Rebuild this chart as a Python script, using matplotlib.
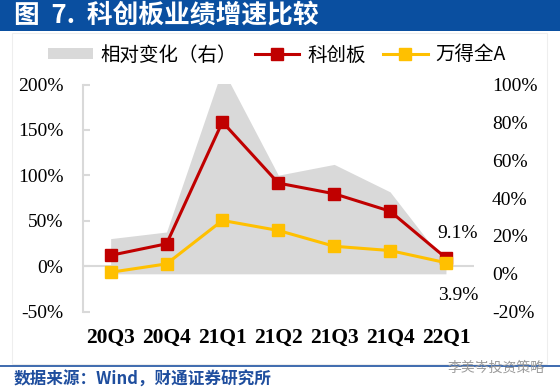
import matplotlib
matplotlib.use("Agg")
import matplotlib.pyplot as plt
from matplotlib.patches import Rectangle, Patch
from matplotlib.lines import Line2D

categories = ["20Q3", "20Q4", "21Q1", "21Q2", "21Q3", "21Q4", "22Q1"]
star_market = [12.0, 24.7, 158.8, 91.5, 79.8, 60.6, 9.1]
wind_all_a = [-6.6, 2.6, 50.4, 39.4, 22.0, 17.3, 3.9]
relative_change = [18.6, 22.1, 108.4, 52.1, 57.8, 43.3, 5.2]
left_ticks = [-50, 0, 50, 100, 150, 200]
right_ticks = [-20, 0, 20, 40, 60, 80, 100]

RED = "#C00000"
YELLOW = "#FFC000"
GRAY = "#D9D9D9"
SERIF = "Liberation Serif"
CJK = ["Noto Sans CJK SC", "DejaVu Sans"]

W, H = 560, 391
fig = plt.figure(figsize=(W / 100, H / 100), dpi=100)
fig.patch.set_facecolor("white")

# title bar
fig.patches.append(Rectangle((0, 1 - 31 / H), 1, 31 / H, transform=fig.transFigure,
                             facecolor="#0A4FA0", edgecolor="none", zorder=0))
fig.text(14 / W, 1 - 16 / H, "图  7.  科创板业绩增速比较", color="white", fontsize=18.5,
         fontweight="bold", family=CJK, va="center", ha="left")
# faint frame
fig.patches.append(Rectangle((12 / W, 1 - 364 / H), 535 / W, 331 / H, transform=fig.transFigure,
                             facecolor="none", edgecolor="#EEEEEE", lw=0.8, zorder=0))

x0, x1 = 82.7, 473.9
y_top, y_bot = 84.5, 311.7
ax = fig.add_axes([x0 / W, 1 - y_bot / H, (x1 - x0) / W, (y_bot - y_top) / H])
ax2 = ax.twinx()
ax.set_zorder(ax2.get_zorder() + 1)
ax.patch.set_visible(False)

xs = list(range(len(categories)))

ax2.fill_between(xs, 0, relative_change, color=GRAY, linewidth=0)
ax2.set_ylim(-20, 100)
ax2.set_yticks(right_ticks)
ax2.set_yticklabels([f"{v}%" for v in right_ticks], fontfamily=SERIF, fontsize=14)
ax2.tick_params(axis="y", length=0, pad=13, colors="#000000")
for s in ax2.spines.values():
    s.set_visible(False)

ax.axhline(0, color=GRAY, lw=1.5, zorder=1)
ax.plot(xs, star_market, color=RED, lw=2.2, marker="s", markersize=8.5, zorder=3)
ax.plot(xs, wind_all_a, color=YELLOW, lw=2.2, marker="s", markersize=8.5, zorder=3)
ax.set_xlim(-0.5, 6.5)
ax.set_ylim(-50, 200)
ax.set_yticks(left_ticks)
ax.set_yticklabels([f"{v}%" for v in left_ticks], fontfamily=SERIF, fontsize=14)
ax.tick_params(axis="y", direction="in", length=5, width=1.5, color=GRAY, pad=14)
ax.set_xticks(xs)
ax.set_xticklabels(categories, fontfamily=SERIF, fontsize=15.5, fontweight="bold")
ax.tick_params(axis="x", length=0, pad=12)
for k in ("top", "right", "bottom"):
    ax.spines[k].set_visible(False)
ax.spines["left"].set_color(GRAY)
ax.spines["left"].set_linewidth(1.5)

ax.annotate(f"{star_market[-1]}%", (xs[-1], star_market[-1]), xytext=(12, 24),
            textcoords="offset pixels", ha="center", va="center",
            fontfamily=SERIF, fontsize=14)
ax.annotate(f"{wind_all_a[-1]}%", (xs[-1], wind_all_a[-1]), xytext=(12, -33),
            textcoords="offset pixels", ha="center", va="center",
            fontfamily=SERIF, fontsize=14)

handles = [
    Patch(facecolor=GRAY, edgecolor="none"),
    Line2D([], [], color=RED, lw=2.2, marker="s", markersize=8.5),
    Line2D([], [], color=YELLOW, lw=2.2, marker="s", markersize=8.5),
]
labels = ["相对变化（右）", "科创板", "万得全A"]
fig.legend(handles, labels, loc="center left", bbox_to_anchor=(48 / W, 1 - 55 / H),
           ncol=3, frameon=False, prop={"family": CJK, "size": 14},
           handlelength=2.3, handleheight=0.55, handletextpad=0.4,
           columnspacing=0.9, borderpad=0, borderaxespad=0)

# footer
fig.add_artist(Line2D([0, 1], [1 - 366 / H, 1 - 366 / H], transform=fig.transFigure,
                      color="#2F5FA8", lw=1.3))
fig.text(14 / W, 1 - 380 / H, "数据来源：Wind，财通证券研究所", color="#1F4E9E",
         fontsize=12, fontweight="bold", family=CJK, va="center", ha="left")
fig.text(545 / W, 1 - 368 / H, "李美岑投资策略", color="#9A9A9A", fontsize=10,
         family=CJK, va="center", ha="right")

fig.savefig("out.png", dpi=100, facecolor="white")
